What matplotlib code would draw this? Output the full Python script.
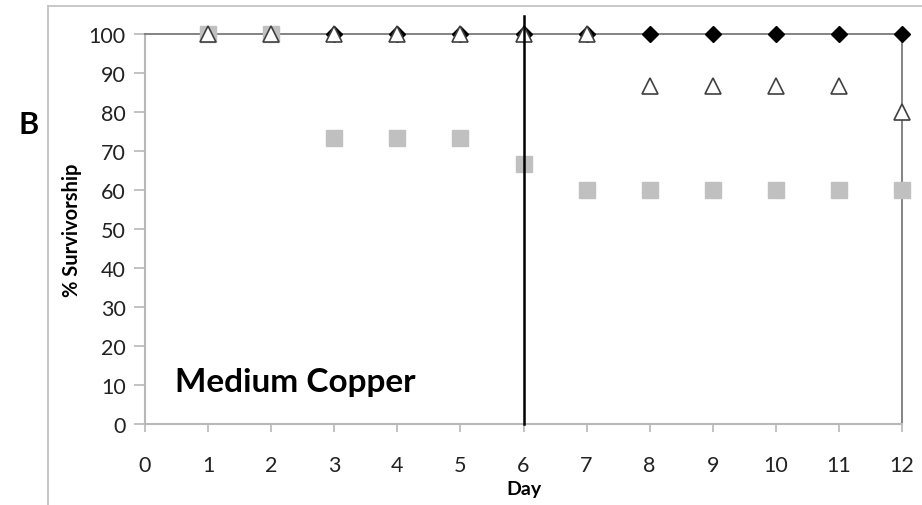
import matplotlib
matplotlib.use("Agg")
from matplotlib import pyplot as plt
from matplotlib.lines import Line2D

plt.rcParams['font.family'] = ['Lato', 'DejaVu Sans']

days = [1, 2, 3, 4, 5, 6, 7, 8, 9, 10, 11, 12]
control = [100, 100, 100, 100, 100, 100, 100, 100, 100, 100, 100, 100]
treatment_a = [100, 100, 73.3, 73.3, 73.3, 66.7, 60, 60, 60, 60, 60, 60]
treatment_b = [100, 100, 100, 100, 100, 100, 100, 86.7, 86.7, 86.7, 86.7, 80]
x_ticks = list(range(0, 13))
y_ticks = list(range(0, 101, 10))
marker_day = 6

fig = plt.figure(figsize=(9.22, 5.06), dpi=100)
ax = fig.add_axes([0.1573, 0.160, 0.821, 0.7708])

ax.plot(days, control, linestyle='none', marker='D', markersize=8,
        color='black', zorder=3, clip_on=False)
ax.plot(days, treatment_a, linestyle='none', marker='s', markersize=11,
        color='#c0c0c0', zorder=4, clip_on=False)
ax.plot(days, treatment_b, linestyle='none', marker='^', markersize=12,
        markerfacecolor='white', markeredgecolor='#404040', markeredgewidth=1.2,
        zorder=5, clip_on=False)

# vertical marker line, runs a bit above the top of the plot
ax.plot([marker_day, marker_day], [0, 104.5], color='black', linewidth=1.8,
        zorder=6, clip_on=False)

ax.set_xlim(0, 12)
ax.set_ylim(0, 100)
ax.set_xticks(x_ticks)
ax.set_yticks(y_ticks)

for side in ['left', 'bottom']:
    ax.spines[side].set_color('#b8b8b8')
    ax.spines[side].set_linewidth(1.5)
for side in ['top', 'right']:
    ax.spines[side].set_color('#7a7a7a')
    ax.spines[side].set_linewidth(1.3)

ax.tick_params(axis='both', colors='#b8b8b8', labelcolor='#222222',
               labelsize=15.5, width=1.2)
ax.tick_params(axis='y', length=8, pad=6)
ax.tick_params(axis='x', length=6, pad=16)

ax.set_xlabel('Day', fontsize=14, fontweight='bold', labelpad=4)
ax.set_ylabel('% Survivorship', fontsize=14.5, fontweight='bold', labelpad=5)

ax.text(0.47, 8.5, 'Medium Copper', fontsize=24, fontweight='bold')
fig.text(0.02, 0.752, 'B', fontsize=22, fontweight='bold', va='center')

# outer frame of the original figure panel
fig.add_artist(Line2D([0.052, 1.0], [0.986, 0.986], color='#bfbfbf', linewidth=1.2))
fig.add_artist(Line2D([0.052, 0.052], [0.0, 0.986], color='#bfbfbf', linewidth=1.2))

fig.savefig('out.png', dpi=100)
